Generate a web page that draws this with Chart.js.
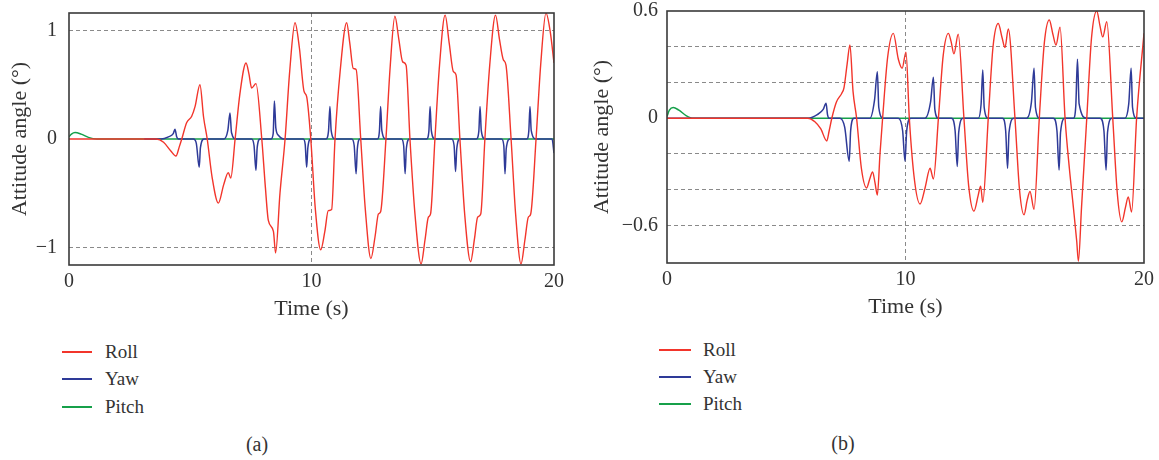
<!DOCTYPE html>
<html>
<head>
<meta charset="utf-8">
<script src="https://cdn.jsdelivr.net/npm/chart.js@4.4.0/dist/chart.umd.min.js"></script>
<style>
    body { margin: 0; background: #fff; width: 1159px; height: 460px; position: relative; overflow: hidden;
           font-family: 'Liberation Serif', serif; color: #333; }
    #chartA { position: absolute; left: 0; top: 0; }
    #chartB { position: absolute; left: 580px; top: 0; }
    .legend { position: absolute; font-size: 19px; }
    .legend .row { display: flex; align-items: center; }
    .legend .swatch { height: 2px; }
    .caption { position: absolute; font-size: 20px; transform: translate(-50%, -50%); }
</style>
</head>
<body>
<canvas id="chartA" width="580" height="330"></canvas>
<canvas id="chartB" width="579" height="330"></canvas>

<div class="legend" id="legendA" style="left:62px; top:338px;"></div>
<div class="legend" id="legendB" style="left:659px; top:336px;"></div>
<div class="caption" style="left:257px; top:444px;">(a)</div>
<div class="caption" style="left:843px; top:443px;">(b)</div>

<script>
// series names and colours
const seriesNames = ["Roll", "Yaw", "Pitch"];
const seriesColors = ["#f2352b", "#2e3a98", "#16a04a"];

// x axis (time, s)
const xTicks = [0, 10, 20];

// ---- panel (a) ----
const rollA_t = [0, 3.6, 3.9, 4.2, 4.41, 4.55, 4.65, 4.85, 5.06, 5.2, 5.4, 5.55, 5.7, 5.9, 6.16, 6.38, 6.57, 6.67, 6.85,
    7.05, 7.3, 7.42, 7.53, 7.71, 7.95, 8.1, 8.22, 8.43, 8.52, 8.7, 8.91, 9.1, 9.32, 9.5, 9.69, 9.8, 9.97,
    10.16, 10.38, 10.55, 10.69, 10.83, 10.97, 11.18, 11.45, 11.58, 11.72, 11.84, 12.03, 12.22, 12.45, 12.62, 12.76, 12.85,
    13.07, 13.24, 13.44, 13.6, 13.76, 13.9, 14.06, 14.27, 14.52, 14.68, 14.82, 14.91, 15.09, 15.28, 15.51, 15.68, 15.85, 15.96,
    16.12, 16.32, 16.56, 16.72, 16.85, 16.98, 17.15, 17.35, 17.59, 17.75, 17.91, 18.02, 18.23, 18.42, 18.64, 18.8, 18.94, 19.04,
    19.26, 19.45, 19.67, 19.85, 20];
const rollA_v = [0, 0, -0.03, -0.11, -0.157, -0.07, 0, 0.15, 0.21, 0.3, 0.5, 0.2, 0, -0.35, -0.59, -0.42, -0.31, -0.36, 0,
    0.42, 0.7, 0.6, 0.47, 0.51, 0, -0.45, -0.75, -0.85, -1.05, -0.5, 0, 0.62, 1.07, 0.84, 0.44, 0.39, 0,
    -0.65, -1.02, -0.85, -0.66, -0.65, 0, 0.62, 1.07, 0.88, 0.65, 0.64, 0, -0.65, -1.1, -0.9, -0.69, -0.67,
    0, 0.65, 1.13, 0.92, 0.71, 0.68, 0, -0.7, -1.15, -0.93, -0.72, -0.69, 0, 0.68, 1.14, 0.88, 0.62, 0.59,
    0, -0.7, -1.13, -0.92, -0.72, -0.69, 0, 0.68, 1.14, 0.92, 0.73, 0.68, 0, -0.7, -1.15, -0.93, -0.72, -0.69,
    0, 0.68, 1.16, 0.98, 0.7];

// yaw trace of (a) starts at about 3.1 s
const yawA_t = [3.1, 3.8, 4.1, 4.3, 4.37, 4.44, 4.51, 5.13, 5.25, 5.37, 5.42, 5.57, 6.39, 6.55, 6.64, 6.7, 6.89,
    7.53, 7.63, 7.71, 7.76, 7.88, 8.33, 8.42, 8.47, 8.53, 8.65, 8.84, 9.66, 9.74, 9.8, 9.85, 9.97,
    10.6, 10.7, 10.76, 10.81, 10.97, 11.66, 11.76, 11.84, 11.89, 12.0, 12.72, 12.8, 12.85, 12.9, 13.07,
    13.71, 13.8, 13.86, 13.91, 14.04, 14.75, 14.84, 14.89, 14.94, 15.09, 15.78, 15.88, 15.94, 15.99, 16.12,
    16.8, 16.9, 16.95, 17.0, 17.15, 17.84, 17.93, 17.98, 18.03, 18.19, 18.88, 18.96, 19.01, 19.06, 19.26, 19.92, 20];
const yawA_v = [0, 0, 0.02, 0.05, 0.09, 0.02, 0, 0, -0.04, -0.26, -0.08, 0, 0, 0.08, 0.24, 0.06, 0,
    0, -0.06, -0.29, -0.08, 0, 0, 0.05, 0.35, 0.1, 0.03, 0, 0, -0.05, -0.26, -0.08, 0,
    0, 0.07, 0.3, 0.08, 0, 0, -0.06, -0.32, -0.09, 0, 0, 0.07, 0.3, 0.08, 0,
    0, -0.06, -0.32, -0.09, 0, 0, 0.07, 0.3, 0.08, 0, 0, -0.06, -0.3, -0.09, 0,
    0, 0.07, 0.3, 0.08, 0, 0, -0.06, -0.32, -0.09, 0, 0, 0.07, 0.3, 0.08, 0, 0, -0.13];

const pitchA_t = [0, 0.1, 0.25, 0.5, 0.8, 1.14, 20];
const pitchA_v = [0.02, 0.045, 0.06, 0.045, 0.015, 0, 0];

const yLabelsA = [-1, 0, 1];

// ---- panel (b) ----
const rollB_t = [0, 5.9, 6.2, 6.45, 6.7, 6.8, 6.91, 7.1, 7.33, 7.42, 7.55, 7.67, 7.8, 7.95, 8.15, 8.37, 8.5, 8.62, 8.72, 8.82, 8.93,
    9.04, 9.25, 9.49, 9.7, 9.86, 10.02, 10.16, 10.38, 10.61, 10.82, 11.03, 11.17, 11.38, 11.58, 11.8, 11.91, 12.03, 12.21,
    12.45, 12.65, 12.87, 13.05, 13.15, 13.24, 13.47, 13.67, 13.89, 14.05, 14.17, 14.31, 14.59, 14.78, 14.97, 15.1, 15.22, 15.39,
    15.61, 15.82, 16.03, 16.18, 16.31, 16.48, 16.69, 16.87, 17.04, 17.18, 17.25, 17.38, 17.6, 17.8, 18.02, 18.15, 18.27, 18.44,
    18.69, 18.88, 19.07, 19.22, 19.34, 19.48, 19.69, 20];
const rollB_v = [0, 0, -0.02, -0.06, -0.127, -0.07, 0, 0.09, 0.14, 0.17, 0.3, 0.41, 0.15, 0, -0.28, -0.39, -0.34, -0.3, -0.36, -0.43, -0.2,
    0, 0.34, 0.475, 0.33, 0.28, 0.37, 0, -0.35, -0.48, -0.39, -0.28, -0.34, 0, 0.35, 0.475, 0.43, 0.36, 0.47,
    0, -0.38, -0.52, -0.43, -0.38, -0.47, 0, 0.4, 0.53, 0.45, 0.395, 0.5, 0, -0.4, -0.54, -0.46, -0.41, -0.51,
    0, 0.42, 0.55, 0.47, 0.41, 0.51, 0, -0.28, -0.5, -0.69, -0.8, -0.5, 0, 0.45, 0.6, 0.52, 0.455, 0.54,
    0, -0.42, -0.58, -0.5, -0.44, -0.525, 0, 0.475];

const yawB_t = [0, 5.93, 6.3, 6.55, 6.67, 6.73, 6.8, 7.25, 7.45, 7.64, 7.7, 7.84, 8.51, 8.7, 8.82, 8.88, 9.07,
    9.7, 9.88, 9.98, 10.05, 10.22, 10.82, 11.05, 11.17, 11.23, 11.38, 11.93, 12.08, 12.17, 12.23, 12.42,
    13.05, 13.17, 13.24, 13.3, 13.47, 14.07, 14.2, 14.28, 14.34, 14.55, 15.08, 15.28, 15.39, 15.45, 15.63,
    16.2, 16.35, 16.44, 16.5, 16.69, 17.04, 17.14, 17.21, 17.28, 17.6, 18.16, 18.32, 18.41, 18.47, 18.66,
    19.2, 19.36, 19.46, 19.52, 19.69, 20];
const yawB_v = [0, 0, 0.02, 0.05, 0.084, 0.02, 0, 0, -0.05, -0.24, -0.07, 0, 0, 0.1, 0.26, 0.06, 0,
    0, -0.07, -0.24, -0.07, 0, 0, 0.09, 0.23, 0.05, 0, 0, -0.07, -0.27, -0.08, 0,
    0, 0.08, 0.27, 0.06, 0, 0, -0.07, -0.28, -0.08, 0, 0, 0.09, 0.28, 0.06, 0,
    0, -0.07, -0.29, -0.08, 0, 0, 0.07, 0.33, 0.08, 0, 0, -0.07, -0.29, -0.08, 0,
    0, 0.08, 0.28, 0.06, 0, 0];

const pitchB_t = [0, 0.1, 0.26, 0.5, 0.8, 1.1, 20];
const pitchB_v = [0.01, 0.045, 0.06, 0.045, 0.015, 0, 0];

const yLabelsB = [-0.6, 0, 0.6];
const yGridB = [-0.6, -0.4, -0.2, 0.2, 0.4];

Chart.defaults.font.family = "'Liberation Serif', serif";
Chart.defaults.font.size = 20;
Chart.defaults.color = "#333";

function points(ts, vs) {
    const out = [];
    for (let i = 0; i < ts.length; i++) {
        out.push({x: ts[i], y: vs[i]});
    }
    return out;
}

function near(list, v) {
    return list.some(function (a) { return Math.abs(a - v) < 1e-6; });
}

function fmt(v) {
    return v < 0 ? "\u2212" + Math.abs(v) : String(v);
}

// dark frame round the plot area
const framePlugin = {
    id: "frame",
    afterDatasetsDraw(chart) {
        const a = chart.chartArea;
        const ctx = chart.ctx;
        ctx.save();
        ctx.strokeStyle = "#3a3a3a";
        ctx.lineWidth = 1.6;
        ctx.strokeRect(a.left, a.top, a.right - a.left, a.bottom - a.top);
        ctx.restore();
    }
};

function createChart(id, p) {
    const series = [[p.roll_t, p.roll_v], [p.yaw_t, p.yaw_v], [p.pitch_t, p.pitch_v]];
    const datasets = series.map(function (s, i) {
        return {
            label: seriesNames[i],
            data: points(s[0], s[1]),
            borderColor: seriesColors[i],
            borderWidth: i === 0 ? 1.4 : 1.5,
            pointRadius: 0,
            cubicInterpolationMode: "monotone",
            fill: false
        };
    });

    return new Chart(document.getElementById(id), {
        type: "line",
        data: {datasets: datasets},
        plugins: [framePlugin],
        options: {
            responsive: false,
            animation: false,
            layout: {autoPadding: false, padding: {top: p.padTop, right: p.padRight, left: 0, bottom: 0}},
            plugins: {legend: {display: false}, tooltip: {enabled: false}},
            scales: {
                x: {
                    type: "linear",
                    min: 0,
                    max: 20,
                    afterFit: function (scale) {
                        scale.height = p.xHeight;
                        scale.paddingLeft = 0;
                        scale.paddingRight = 0;
                    },
                    border: {display: false, dash: [4, 3]},
                    grid: {
                        drawTicks: false,
                        color: function (c) { return c.tick && c.tick.value === 10 ? "#8a8a8a" : "rgba(0,0,0,0)"; }
                    },
                    ticks: {
                        stepSize: 10, includeBounds: false, autoSkip: false, maxRotation: 0, padding: 5,
                        callback: function (v) { return xTicks.indexOf(v) >= 0 ? String(v) : ""; }
                    },
                    title: {display: true, text: "Time (s)", font: {size: 22}, padding: {top: 0, bottom: p.xTitlePad}}
                },
                y: {
                    min: p.yMin,
                    max: p.yMax,
                    afterFit: function (scale) {
                        // keep the tick labels from pushing the plot area down
                        scale.width = p.yWidth;
                        scale.paddingTop = 0;
                        scale.paddingBottom = 0;
                    },
                    border: {display: false, dash: [4, 3]},
                    grid: {
                        drawTicks: false,
                        color: function (c) { return c.tick && near(p.yGrid, c.tick.value) ? "#8a8a8a" : "rgba(0,0,0,0)"; }
                    },
                    ticks: {
                        stepSize: p.yStep, includeBounds: false, autoSkip: false, padding: p.yTickPad,
                        callback: function (v) { return near(p.yLabels, v) ? fmt(v) : ""; }
                    },
                    title: {display: true, text: "Attitude angle (\u00b0)", font: {size: 22}, padding: {top: p.yTitlePad, bottom: 0}}
                }
            }
        }
    });
}

function createLegend(id, swatchWidth, gap, rowHeight) {
    const box = document.getElementById(id);
    seriesNames.forEach(function (name, i) {
        const row = document.createElement("div");
        row.className = "row";
        row.style.height = rowHeight + "px";
        const sw = document.createElement("span");
        sw.className = "swatch";
        sw.style.width = swatchWidth + "px";
        sw.style.marginRight = gap + "px";
        sw.style.background = seriesColors[i];
        const label = document.createElement("span");
        label.textContent = name;
        row.appendChild(sw);
        row.appendChild(label);
        box.appendChild(row);
    });
}

createChart("chartA", {
    roll_t: rollA_t, roll_v: rollA_v, yaw_t: yawA_t, yaw_v: yawA_v, pitch_t: pitchA_t, pitch_v: pitchA_v,
    yMin: -1.16, yMax: 1.16, yStep: 1, yLabels: yLabelsA, yGrid: [-1, 1],
    padTop: 13, padRight: 26, yWidth: 69, xHeight: 65, xTitlePad: 8, yTitlePad: 7, yTickPad: 12
});

createChart("chartB", {
    roll_t: rollB_t, roll_v: rollB_v, yaw_t: yawB_t, yaw_v: yawB_v, pitch_t: pitchB_t, pitch_v: pitchB_v,
    yMin: -0.81, yMax: 0.6, yStep: 0.2, yLabels: yLabelsB, yGrid: yGridB,
    padTop: 11, padRight: 15, yWidth: 87, xHeight: 67, xTitlePad: 10, yTitlePad: 9, yTickPad: 9
});

createLegend("legendA", 30, 13, 27.5);
createLegend("legendB", 32, 12, 27);
</script>
</body>
</html>
